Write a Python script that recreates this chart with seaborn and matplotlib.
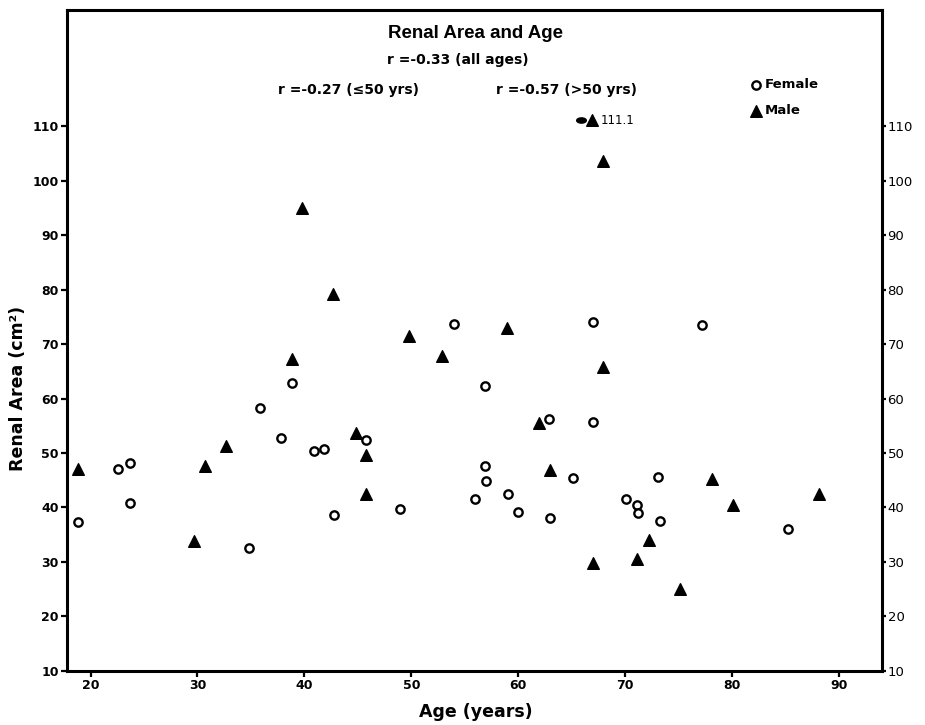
import matplotlib
matplotlib.use("Agg")
import matplotlib.pyplot as plt
from matplotlib.path import Path
from matplotlib.transforms import Affine2D
import seaborn as sns
import pandas as pd

# Female subjects: age (years) and renal area (cm²)
female_age = [18.8, 22.6, 23.7, 23.7, 34.8, 35.8, 38.8, 37.8, 40.9, 41.8, 45.8,
              42.8, 48.9, 54.0, 67.0, 77.2, 56.9, 62.9, 67.0, 56.9, 57.0, 55.9,
              59.0, 60.0, 63.0, 65.1, 70.1, 71.1, 71.2, 73.1, 73.2, 85.2]
female_area = [37.3, 47.1, 48.2, 40.8, 32.6, 58.3, 62.9, 52.8, 50.4, 50.8, 52.3,
               38.6, 39.7, 73.7, 74.1, 73.6, 62.3, 56.3, 55.7, 47.6, 44.9, 41.6,
               42.5, 39.2, 38.1, 45.4, 41.6, 40.5, 39.0, 45.6, 37.5, 36.0]

# Male subjects
male_age = [18.8, 29.7, 30.7, 32.7, 39.8, 42.7, 38.8, 44.8, 45.8, 45.8, 49.8,
            52.9, 58.9, 61.9, 63.0, 67.9, 67.9, 66.9, 67.0, 71.1, 72.2, 75.1,
            78.1, 80.1, 88.1]
male_area = [47.1, 33.8, 47.6, 51.3, 95.0, 79.3, 67.3, 53.7, 49.7, 42.5, 71.5,
             67.9, 73.0, 55.5, 46.9, 65.8, 103.7, 111.1, 29.8, 30.5, 34.0, 25.0,
             45.3, 40.5, 42.5]

x_ticks = [20, 30, 40, 50, 60, 70, 80, 90]
y_ticks = [10, 20, 30, 40, 50, 60, 70, 80, 90, 100, 110]

title = "Renal Area and Age"
r_all = "r =-0.33 (all ages)"
r_young = "r =-0.27 (≤50 yrs)"
r_old = "r =-0.57 (>50 yrs)"

female = pd.DataFrame({"age": female_age, "area": female_area})
male = pd.DataFrame({"age": male_age, "area": male_area})

sns.set_style("white")
plt.rcParams["font.family"] = ["DejaVu Sans"]
for key in ("text.color", "axes.labelcolor", "xtick.color", "ytick.color"):
    plt.rcParams[key] = "black"

W, H = 925, 725
fig = plt.figure(figsize=(W / 100, H / 100), dpi=100)
ax = fig.add_axes([67 / W, (H - 670.7) / H, (882 - 67) / W, (670.7 - 10) / H])

sns.scatterplot(data=female, x="age", y="area", ax=ax, marker="o", s=36,
                facecolor="white", edgecolor="black", linewidth=1.7,
                label="Female", zorder=3)
sns.scatterplot(data=male, x="age", y="area", ax=ax, marker="^", s=70,
                color="black", edgecolor="black", linewidth=1.0,
                label="Male", zorder=3)

ax.set_xlim(17.8, 94.0)
ax.set_ylim(10, 131.4)
ax.set_xticks(x_ticks)
ax.set_yticks(y_ticks)
ax.set_xticklabels([str(v) for v in x_ticks], fontsize=9, fontweight="bold")
ax.set_yticklabels([str(v) for v in y_ticks], fontsize=9, fontweight="bold")
ax.set_xlabel("")
ax.set_ylabel("")
ax.tick_params(axis="both", direction="out", length=4, width=1.6, color="black",
               pad=2, left=True, bottom=True)

for sp in ax.spines.values():
    sp.set_visible(True)
    sp.set_color("black")
    sp.set_linewidth(2.2)

# right-hand copy of the area scale
ax2 = ax.twinx()
ax2.set_ylim(ax.get_ylim())
ax2.set_yticks(y_ticks)
ax2.set_yticklabels([str(v) for v in y_ticks], fontsize=9.5)
ax2.tick_params(axis="y", direction="out", length=3, width=1.6, pad=1, right=True)
for sp in ax2.spines.values():
    sp.set_visible(False)

# outlier label next to the highest male value
top_i = male_area.index(max(male_area))
flat_dot = Path.unit_circle().transformed(Affine2D().scale(1.0, 0.6))
ax.plot(male_age[top_i] - 1.05, male_area[top_i], marker=flat_dot, ms=8,
        color="black", markeredgewidth=0, zorder=3)
ax.annotate(f"{male_area[top_i]:.1f}", (male_age[top_i], male_area[top_i]),
            xytext=(6, 0), textcoords="offset points", va="center", ha="left",
            fontsize=8.5)

ax.legend(loc="upper left",
          bbox_to_anchor=((744 - 67) / (882 - 67), 1 - (73 - 10) / 660.7),
          frameon=False, handletextpad=0.15, labelspacing=1.0,
          handlelength=1.0, borderaxespad=0,
          prop={"weight": "bold", "size": 9.5})

fig.text(476 / W, 1 - 33 / H, title, ha="center", va="center",
         fontsize=13.5, fontweight="bold", family=["Liberation Sans"])
fig.text(458 / W, 1 - 60 / H, r_all, ha="center", va="center",
         fontsize=10, fontweight="bold")
fig.text(348 / W, 1 - 90 / H, r_young, ha="center", va="center",
         fontsize=10, fontweight="bold")
fig.text(566 / W, 1 - 90 / H, r_old, ha="center", va="center",
         fontsize=10, fontweight="bold")

fig.text(476 / W, 1 - 712 / H, "Age (years)", ha="center", va="center",
         fontsize=12.5, fontweight="bold")
fig.text(18 / W, 1 - 388 / H, "Renal Area (cm²)", ha="center", va="center",
         rotation=90, fontsize=12.5, fontweight="bold")

fig.savefig("out.png", dpi=100, facecolor="white")
